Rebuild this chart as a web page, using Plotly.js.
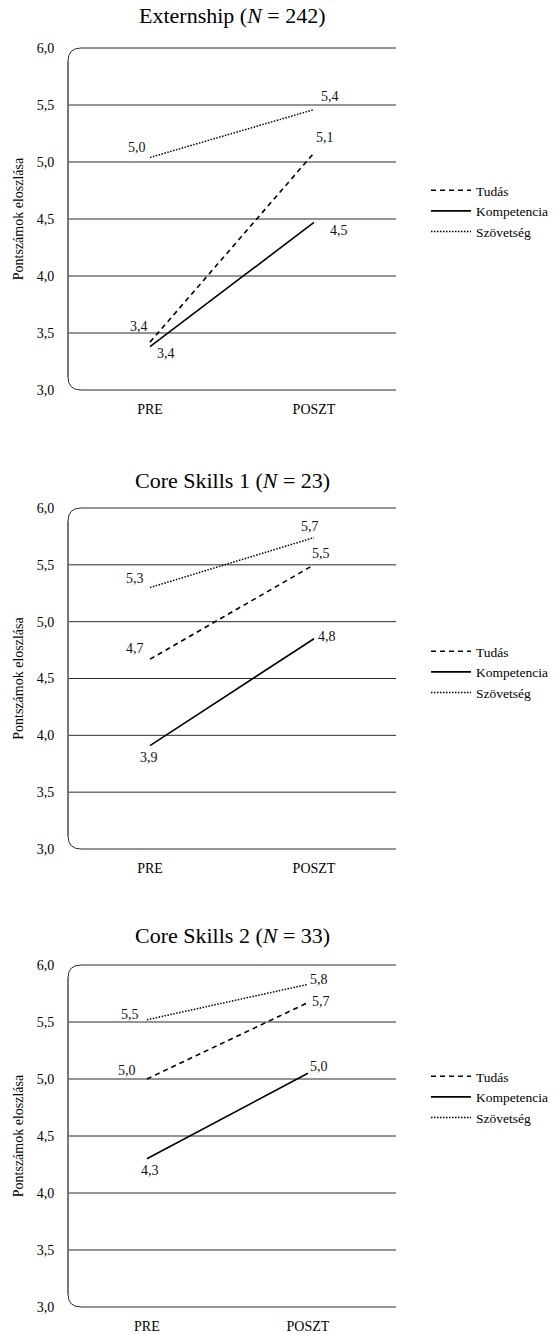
<!DOCTYPE html>
<html>
<head>
<meta charset="utf-8">
<script src="https://cdn.plot.ly/plotly-3.0.1.min.js"></script>
<style>html,body{margin:0;padding:0;background:#fff}</style>
</head>
<body>
<div id="chart" style="width:560px;height:1335px"></div>
<script>
// ---- data ----
const categories = ['PRE', 'POSZT'];
const panelTitles = ['Externship (<i>N</i> = 242)', 'Core Skills 1 (<i>N</i> = 23)', 'Core Skills 2 (<i>N</i> = 33)'];
const seriesNames = ['Tudás', 'Kompetencia', 'Szövetség'];
const tudas       = [[3.42, 5.08], [4.67, 5.50], [5.00, 5.67]];
const kompetencia = [[3.38, 4.47], [3.91, 4.85], [4.30, 5.05]];
const szovetseg   = [[5.04, 5.46], [5.30, 5.74], [5.52, 5.83]];
const tudasLabels = [['3,4', '5,1'], ['4,7', '5,5'], ['5,0', '5,7']];
const kompLabels  = [['3,4', '4,5'], ['3,9', '4,8'], ['4,3', '5,0']];
const szovLabels  = [['5,0', '5,4'], ['5,3', '5,7'], ['5,5', '5,8']];
const yTicks = [3.0, 3.5, 4.0, 4.5, 5.0, 5.5, 6.0];
const yTitle = 'Pontszámok eloszlása';

// ---- layout geometry (pixels) ----
const W = 560, H = 1335;
const plotLeft = 68, plotRight = 396;
const panelPx = [[48, 390], [508, 849], [965, 1307]]; // top, bottom
const xRanges = [[-0.5, 1.5], [-0.5, 1.5], [-0.49, 1.547]];
const legendCenterPx = [211, 672, 1097];
const titleCenterPx = [16, 480, 935];

const FONT = "'Liberation Serif', 'Times New Roman', serif";
const seriesData = [tudas, kompetencia, szovetseg];
const seriesLabels = [tudasLabels, kompLabels, szovLabels];
const dashes = ['5px,4px', 'solid', '1.5px,1.5px'];
// label offsets [dx, dy] in screen pixels (dy down) per panel, series, point
const labelOff = [
  [[[-11, -16], [11, -15]], [[16, 7], [25, 8]], [[-13, -10], [16, -13]]],
  [[[-15, -11], [7, -11]], [[-1, 12], [13, -2]], [[-15, -9], [-4, -11]]],
  [[[-20, -9], [13, -1]], [[3, 12], [11, -7]], [[-17, -5], [11, -5]]]
];

const traces = [];
const layout = {
  width: W, height: H, autosize: false,
  margin: {l: 0, r: 0, t: 0, b: 0},
  paper_bgcolor: '#fff', plot_bgcolor: 'rgba(0,0,0,0)',
  separators: ',.',
  font: {family: FONT, color: '#000', size: 14},
  showlegend: true,
  shapes: [], annotations: []
};

const fx = px => px / W;
const fy = py => 1 - py / H;

for (let p = 0; p < 3; p++) {
  const sfx = p === 0 ? '' : String(p + 1);
  const [top, bot] = panelPx[p];
  const dom = [fy(bot), fy(top)];
  const legendName = p === 0 ? 'legend' : 'legend' + (p + 1);

  for (let s = 0; s < 3; s++) {
    traces.push({
      type: 'scatter', mode: 'lines',
      x: categories, y: seriesData[s][p],
      name: seriesNames[s],
      line: {color: '#000', width: s === 2 ? 1.5 : 1.6, dash: dashes[s]},
      xaxis: 'x' + sfx, yaxis: 'y' + sfx,
      legend: legendName,
      hoverinfo: 'skip'
    });
    for (let i = 0; i < 2; i++) {
      layout.annotations.push({
        xref: 'x' + sfx, yref: 'y' + sfx,
        x: categories[i], y: seriesData[s][p][i],
        text: seriesLabels[s][p][i], showarrow: false,
        xanchor: 'center', yanchor: 'middle',
        xshift: labelOff[p][s][i][0], yshift: -labelOff[p][s][i][1],
        font: {family: FONT, size: 14, color: '#111'}
      });
    }
  }

  layout['xaxis' + sfx] = {
    domain: [fx(plotLeft), fx(plotRight)],
    anchor: 'y' + sfx,
    type: 'category', range: xRanges[p],
    showgrid: false, zeroline: false, showline: false,
    ticks: 'outside', ticklen: 6, tickcolor: 'rgba(0,0,0,0)',
    tickfont: {family: FONT, size: 14, color: '#000'},
    fixedrange: true
  };
  layout['yaxis' + sfx] = {
    domain: dom, anchor: 'x' + sfx,
    range: [3, 6], tickvals: yTicks, tickformat: '.1f',
    showgrid: false, zeroline: false, showline: false,
    ticks: 'outside', ticklen: 10, tickcolor: 'rgba(0,0,0,0)',
    tickfont: {family: FONT, size: 14, color: '#000'},
    title: {text: yTitle, font: {family: FONT, size: 14, color: '#000'}, standoff: 9},
    fixedrange: true
  };
  layout[legendName] = {
    x: fx(426), xanchor: 'left', y: fy(legendCenterPx[p]), yanchor: 'middle',
    font: {family: FONT, size: 13.5, color: '#000'},
    itemwidth: 40,
    bgcolor: 'rgba(0,0,0,0)', borderwidth: 0, tracegroupgap: 0
  };

  // interior gridlines
  yTicks.forEach(v => {
    if (v === 3 || v === 6) return;
    layout.shapes.push({
      type: 'line', xref: 'x' + sfx + ' domain', yref: 'y' + sfx,
      x0: 0, x1: 1, y0: v, y1: v,
      line: {color: '#2b2b2b', width: 1}, layer: 'below'
    });
  });
  // rounded frame: top gridline, left axis, bottom gridline
  const a0 = fx(plotLeft), a1 = fx(plotRight);
  const rx = 13 / W, ry = 13 / H;
  const d0 = dom[0], d1 = dom[1];
  layout.shapes.push({
    type: 'path', xref: 'paper', yref: 'paper', layer: 'below',
    path: `M ${a1},${d1} L ${a0 + rx},${d1} Q ${a0},${d1} ${a0},${d1 - ry} L ${a0},${d0 + ry} Q ${a0},${d0} ${a0 + rx},${d0} L ${a1},${d0}`,
    line: {color: '#2b2b2b', width: 1}
  });
  layout.shapes.push({
    type: 'line', xref: 'paper', yref: 'paper', layer: 'below',
    x0: a0, x1: a0, y0: d0 + ry, y1: d1 - ry,
    line: {color: '#707070', width: 1.6}
  });

  layout.annotations.push({
    text: panelTitles[p], xref: 'paper', yref: 'paper',
    x: (a0 + a1) / 2, y: fy(titleCenterPx[p]), xanchor: 'center', yanchor: 'middle',
    showarrow: false, font: {family: FONT, size: 22, color: '#000'}
  });
}

Plotly.newPlot('chart', traces, layout, {staticPlot: true, displayModeBar: false});
</script>
</body>
</html>
